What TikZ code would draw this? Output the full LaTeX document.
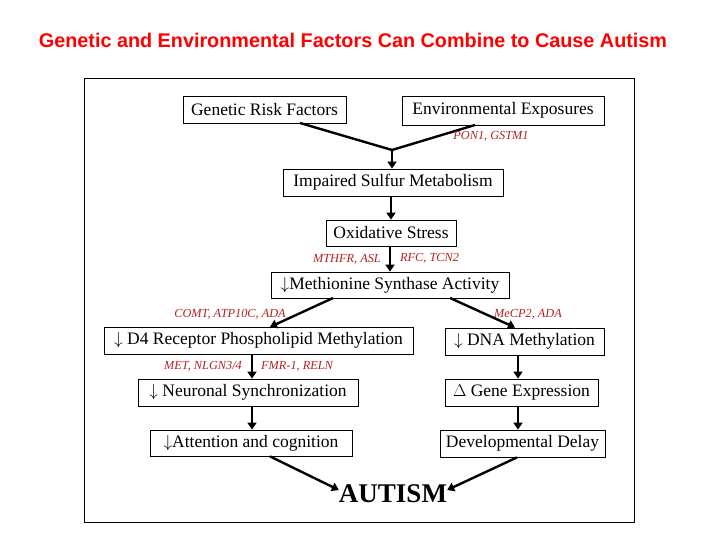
\documentclass[tikz,border=0pt]{standalone}
\usepackage{fontspec}
\setmainfont{Liberation Serif}
\newfontfamily\titlefont{Liberation Sans}
\usetikzlibrary{arrows.meta}
\definecolor{gred}{HTML}{B22222}
\begin{document}
\begin{tikzpicture}[x=1pt,y=-1pt,
 box/.style={draw,line width=0.8pt,inner sep=0pt,font=\fontsize{17.5}{19}\selectfont,anchor=center},
 gene/.style={text=gred,font=\itshape\fontsize{12.3}{14}\selectfont,inner sep=0pt},
 arr/.style={line width=2.4pt,-{Triangle[length=7pt,width=9pt]}},
 ln/.style={line width=2.4pt}]
\useasboundingbox (0,0) rectangle (720,540);
\fill[white] (0,0) rectangle (720,540);
\node[text=red,font=\titlefont\bfseries\fontsize{19.8}{22}\selectfont] (title) at (353,40) {Genetic and Environmental Factors Can Combine to Cause Autism};
\node[draw,line width=0.8pt,minimum width=550pt,minimum height=444pt,inner sep=0pt] (frame) at (359,300) {};
\node[box,minimum width=163pt,minimum height=27pt] (gen) at (264.5,110) {Genetic Risk Factors};
\node[box,minimum width=202pt,minimum height=29pt] (env) at (503,110.5) {Environmental Exposures};
\node[box,minimum width=220pt,minimum height=27pt] (ism) at (393,182.5) {Impaired Sulfur Metabolism};
\node[box,minimum width=130pt,minimum height=26pt] (ox) at (391,233) {Oxidative Stress};
\node[box,minimum width=238pt,minimum height=26pt] (ms) at (390,285) {$\downarrow$Methionine Synthase Activity};
\node[box,minimum width=309pt,minimum height=27pt] (d4) at (258.5,340.5) {$\downarrow$ D4 Receptor Phospholipid Methylation};
\node[box,minimum width=159pt,minimum height=27pt] (dna) at (524.5,341.5) {$\downarrow$ DNA Methylation};
\node[box,minimum width=220pt,minimum height=27pt] (neu) at (248,392.5) {$\downarrow$ Neuronal Synchronization};
\node[box,minimum width=153pt,minimum height=27pt] (ge) at (521.5,392.5) {$\Delta$ Gene Expression};
\node[box,minimum width=202pt,minimum height=26pt] (att) at (251,443) {$\downarrow$Attention and cognition};
\node[box,minimum width=165pt,minimum height=27pt] (dd) at (522.5,443.5) {Developmental Delay};
\node[font=\bfseries\fontsize{27}{29}\selectfont,inner sep=0pt] (aut) at (393,494) {AUTISM};
\coordinate (m) at (392,150);
\draw[ln] (300,123) -- (m);
\draw[ln] (475,125) -- (m);
\draw[arr] (m) -- (ism.north -| m);
\draw[arr] (ism.south -| ox) -- (ox.north);
\draw[arr] (ox.south -| ms) -- (ms.north);
\draw[arr] (333,298) -- (270,327);
\draw[arr] (450,298) -- (515,327.5);
\draw[arr] (d4.south -| 252,0) -- (neu.north -| 252,0);
\draw[arr] (dna.south -| 518,0) -- (ge.north -| 518,0);
\draw[arr] (neu.south -| 252,0) -- (att.north -| 252,0);
\draw[arr] (ge.south -| 518,0) -- (dd.north -| 518,0);
\draw[arr] (att.south -| 270,0) -- (aut.west |- 0,490);
\draw[arr] (dd.south -| 517,0) -- (aut.east |- 0,490);
\node[gene] (g1) at (491,136) {PON1, GSTM1};
\node[gene,anchor=east] (g2) at (381,259) {MTHFR, ASL};
\node[gene,anchor=west] (g3) at (400,258) {RFC, TCN2};
\node[gene] (g4) at (230,314.5) {COMT, ATP10C, ADA};
\node[gene] (g5) at (528,314.5) {MeCP2, ADA};
\node[gene] (g6) at (203,366) {MET, NLGN3/4};
\node[gene,anchor=west] (g7) at (261,366) {FMR-1, RELN};
\end{tikzpicture}
\end{document}
